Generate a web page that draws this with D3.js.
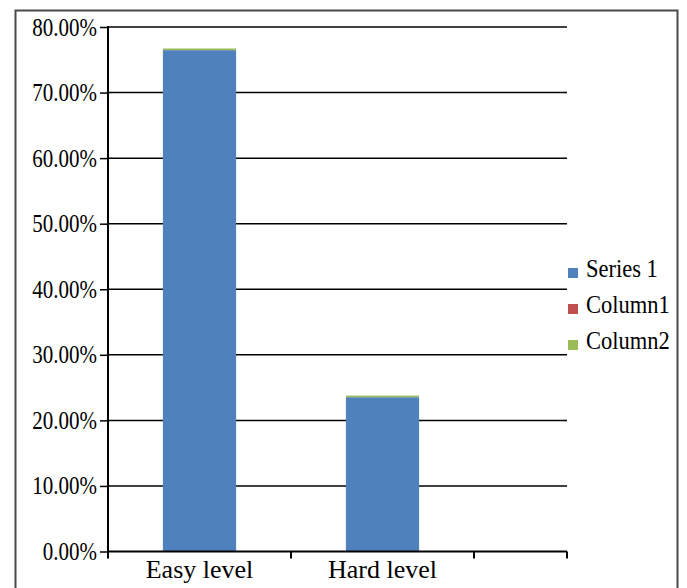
<!DOCTYPE html>
<html>
<head>
<meta charset="utf-8">
<script src="https://cdn.jsdelivr.net/npm/d3@7"></script>
</head>
<body style="margin:0">
<svg id="chart" width="687" height="588" style="display:block"></svg>
<script>
// Category labels (third slot is left blank on the axis)
const categories = ["Easy level", "Hard level", ""];
// Stacked series values, in percent
const series1 = [76.47, 23.53, 0];
const column1 = [0, 0, 0];
const column2 = [0.25, 0.25, 0];
const seriesNames = ["Series 1", "Column1", "Column2"];
const seriesColors = ["#4F81BD", "#C0504D", "#9BBB59"];
// Value axis tick values
const yTicks = [0, 10, 20, 30, 40, 50, 60, 70, 80];

const serifFont = "'Liberation Serif'";

const rows = categories.map((c, i) => ({
  category: c,
  "Series 1": series1[i],
  "Column1": column1[i],
  "Column2": column2[i]
}));

const svg = d3.select("#chart");

// Outer frame of the chart
svg.append("rect")
  .attr("x", 15.5).attr("y", 10.5)
  .attr("width", 662).attr("height", 600)
  .attr("fill", "#fff")
  .attr("stroke", "#4a4a4a").attr("stroke-width", 2);

const plotLeft = 108, plotRight = 567, plotTop = 27, plotBottom = 551.5;
const step = 183;

const x = d3.scaleBand()
  .domain(categories)
  .range([plotLeft, plotLeft + step * categories.length])
  .paddingInner(0.6)
  .paddingOuter(0.3);

const y = d3.scaleLinear().domain([0, 80]).range([plotBottom, plotTop]);

// Horizontal gridlines
svg.append("g").selectAll("line")
  .data(yTicks.filter(d => d > 0))
  .join("line")
  .attr("x1", plotLeft).attr("x2", plotRight)
  .attr("y1", d => y(d)).attr("y2", d => y(d))
  .attr("stroke", "#000").attr("stroke-width", 1.5);

// Stacked bars
const stacked = d3.stack().keys(seriesNames)(rows);
svg.append("clipPath").attr("id", "plotClip")
  .append("rect").attr("x", plotLeft).attr("y", 0)
  .attr("width", plotRight - plotLeft).attr("height", plotBottom);

const barGroups = svg.append("g").attr("clip-path", "url(#plotClip)")
  .selectAll("g")
  .data(stacked)
  .join("g")
  .attr("fill", (d, i) => seriesColors[i]);

barGroups.selectAll("rect")
  .data(d => d.map(v => ({ v, cat: v.data.category })))
  .join("rect")
  .filter(d => d.v[1] - d.v[0] > 0)
  .attr("x", d => x(d.cat))
  .attr("width", x.bandwidth())
  .attr("y", d => y(d.v[1]))
  .attr("height", d => y(d.v[0]) - y(d.v[1]));

// Value axis: tick marks from d3, labels drawn below in a narrowed serif
const yAxis = d3.axisLeft(y)
  .tickValues(yTicks)
  .tickSize(8)
  .tickFormat("");

const yg = svg.append("g").attr("transform", `translate(${plotLeft},0)`).call(yAxis);
yg.select(".domain").remove();
yg.selectAll(".tick line").attr("stroke", "#000").attr("stroke-width", 1.5);

svg.append("g").selectAll("text")
  .data(yTicks)
  .join("text")
  .attr("transform", d => `translate(${plotLeft - 11},${y(d) + 8.5}) scale(0.84,1)`)
  .attr("text-anchor", "end")
  .attr("font-size", 25)
  .attr("fill", "#000")
  .style("font-family", d => serifFont)
  .text(d => d3.format(".2f")(d) + "%");

svg.append("line")
  .attr("x1", plotLeft).attr("x2", plotLeft)
  .attr("y1", plotTop - 1).attr("y2", plotBottom + 7)
  .attr("stroke", "#000").attr("stroke-width", 2);

// Category axis
svg.append("line")
  .attr("x1", plotLeft).attr("x2", plotRight)
  .attr("y1", plotBottom).attr("y2", plotBottom)
  .attr("stroke", "#000").attr("stroke-width", 2);

const boundaries = categories.map(c => x(c) - x.step() * x.paddingInner() / 2)
  .concat([plotRight])
  .filter(v => v > plotLeft + 1 && v <= plotRight);
svg.append("g").selectAll("line")
  .data(boundaries)
  .join("line")
  .attr("x1", d => d).attr("x2", d => d)
  .attr("y1", plotBottom).attr("y2", plotBottom + 7)
  .attr("stroke", "#000").attr("stroke-width", 2);

svg.append("g").selectAll("text")
  .data(categories)
  .join("text")
  .attr("x", d => x(d) + x.bandwidth() / 2)
  .attr("y", 578)
  .attr("text-anchor", "middle")
  .attr("font-size", 26)
  .attr("fill", "#000")
  .style("font-family", d => serifFont)
  .text(d => d);

// Legend
const legend = svg.append("g").selectAll("g")
  .data(seriesNames)
  .join("g")
  .attr("transform", (d, i) => `translate(568,${268 + i * 36})`);

legend.append("rect")
  .attr("width", 10).attr("height", 10)
  .attr("fill", (d, i) => seriesColors[i]);

legend.append("text")
  .attr("transform", "translate(18,9) scale(0.9,1)")
  .attr("font-size", 25)
  .attr("fill", "#000")
  .style("font-family", d => serifFont)
  .text(d => d);
</script>
</body>
</html>
